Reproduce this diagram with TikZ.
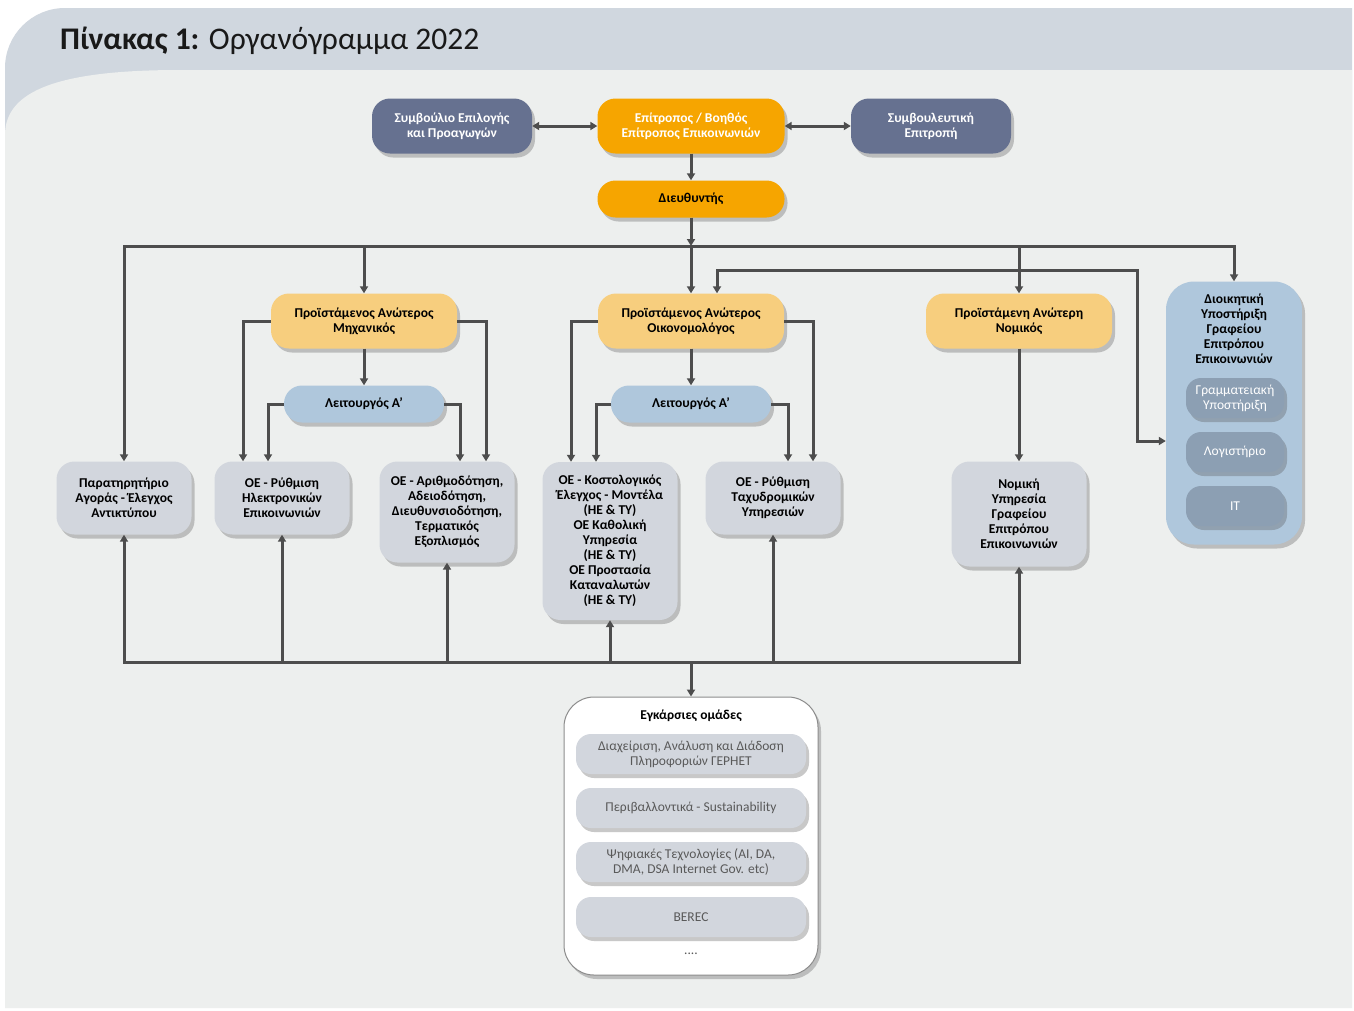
\documentclass[tikz,border=0pt]{standalone}
\usepackage{fontspec}
\setmainfont{Carlito}
\usetikzlibrary{arrows.meta,shadows}
\definecolor{hdrc}{HTML}{D0D7DF}
\definecolor{bodyc}{HTML}{EDEFEE}
\definecolor{slatec}{HTML}{667190}
\definecolor{orangec}{HTML}{F6A500}
\definecolor{lorangec}{HTML}{F7CE7E}
\definecolor{lbluec}{HTML}{AFC7DC}
\definecolor{grayc}{HTML}{D2D6DD}
\definecolor{innerc}{HTML}{8C9FB3}
\definecolor{linec}{HTML}{4D4D4D}
\definecolor{softc}{HTML}{595959}
\begin{document}
\begin{tikzpicture}[x=1pt,y=-1pt,>={Triangle[length=7pt,width=8pt]},
  con/.style={draw=linec,line width=3pt},
  box/.style={rounded corners=18pt,inner sep=2pt,align=center,minimum height=37pt,
    font=\bfseries\fontsize{13.5}{15}\selectfont,
    drop shadow={shadow xshift=3pt,shadow yshift=-4pt,opacity=.3,fill=black!70}},
  top/.style={box,fill=slatec,text=white,minimum width=160pt,minimum height=55pt},
  head/.style={box,fill=orangec,minimum width=187pt},
  chief/.style={box,fill=lorangec,minimum width=186pt,minimum height=55pt},
  officer/.style={box,fill=lbluec,minimum width=160pt},
  unit/.style={box,fill=grayc,minimum width=135pt,minimum height=73pt},
  sub/.style={box,rounded corners=15pt,fill=innerc,text=white,font=\fontsize{13.5}{15}\selectfont,
    minimum width=98pt,minimum height=40pt},
  group/.style={box,rounded corners=15pt,fill=grayc,text=softc,font=\fontsize{13.5}{15}\selectfont,
    minimum width=230pt,minimum height=40pt}]
\useasboundingbox (0,0) rectangle (1354,1010);
\fill[white] (0,0) rectangle (1354,1010);
\fill[hdrc] (5,200) [rounded corners=60pt] -- (5,8) [sharp corners] -- (1352,8) -- (1352,200) -- cycle;
\fill[bodyc] (5,1008) -- (5,135) .. controls (5,90) and (60,70) .. (180,70) -- (1352,70) -- (1352,1008) -- cycle;
\node[anchor=west,inner sep=0pt,text=black!90] (title) at (60,41)
  {\fontsize{31.5}{36}\selectfont\textbf{Πίνακας 1:} Οργανόγραμμα 2022};

\node[top] (board) at (452,126) {Συμβούλιο Επιλογής\\και Προαγωγών};
\node[head,text=white,minimum height=55pt] (comm) at (691,126) {Επίτροπος / Βοηθός\\Επίτροπος Επικοινωνιών};
\node[top] (advis) at (931,126) {Συμβουλευτική\\Επιτροπή};
\node[head] (dir) at (691,199) {Διευθυντής};

\node[chief] (eng) at (364,321) {Προϊστάμενος Ανώτερος\\Μηχανικός};
\node[chief] (econ) at (691,321) {Προϊστάμενος Ανώτερος\\Οικονομολόγος};
\node[chief] (law) at (1019,321) {Προϊστάμενη Ανώτερη\\Νομικός};
\node[box,fill=lbluec,minimum width=136pt,minimum height=263pt,rounded corners=28pt] (admin) at (1234,413) {};
\node[font=\bfseries\fontsize{13.5}{15}\selectfont,align=center,inner sep=0pt] (admint) at (1234,329)
  {Διοικητική\\Υποστήριξη\\Γραφείου\\Επιτρόπου\\Επικοινωνιών};
\node[sub] (secr) at (1235,398) {Γραμματειακή\\Υποστήριξη};
\node[sub] (acct) at (1235,452) {Λογιστήριο};
\node[sub] (it) at (1235,506) {IT};

\node[officer] (off1) at (364,404) {Λειτουργός Α’};
\node[officer] (off2) at (691,404) {Λειτουργός Α’};

\node[unit] (obs) at (124,498) {Παρατηρητήριο\\Αγοράς - Έλεγχος\\Αντικτύπου};
\node[unit] (elec) at (282,498) {ΟΕ - Ρύθμιση\\Ηλεκτρονικών\\Επικοινωνιών};
\node[unit,minimum height=101pt] (numb) at (447,512) {ΟΕ - Αριθμοδότηση,\\Αδειοδότηση,\\Διευθυνσιοδότηση,\\Τερματικός\\Εξοπλισμός};
\node[unit,minimum height=158pt] (cost) at (610,541) {ΟΕ - Κοστολογικός\\Έλεγχος - Μοντέλα\\(ΗΕ \& ΤΥ)\\ΟΕ Καθολική\\Υπηρεσία\\(ΗΕ \& ΤΥ)\\ΟΕ Προστασία\\Καταναλωτών\\(ΗΕ \& ΤΥ)};
\node[unit] (post) at (773,498) {ΟΕ - Ρύθμιση\\Ταχυδρομικών\\Υπηρεσιών};
\node[unit,minimum height=105pt] (legal) at (1019,514) {Νομική\\Υπηρεσία\\Γραφείου\\Επιτρόπου\\Επικοινωνιών};

\node[box,fill=white,draw=black!45,line width=1pt,rounded corners=30pt,minimum width=254pt,minimum height=278pt] (cross) at (691,836) {};
\node[font=\bfseries\fontsize{13.5}{15}\selectfont,inner sep=0pt] (crosst) at (691,716) {Εγκάρσιες ομάδες};
\node[group] (g1) at (691,754) {Διαχείριση, Ανάλυση και Διάδοση\\Πληροφοριών ΓΕΡΗΕΤ};
\node[group] (g2) at (691,808) {Περιβαλλοντικά - Sustainability};
\node[group] (g3) at (691,862) {Ψηφιακές Τεχνολογίες (AI, DA,\\DMA, DSA Internet Gov. etc)};
\node[group] (g4) at (691,917) {BEREC};
\node[text=softc,font=\fontsize{13.5}{15}\selectfont,inner sep=0pt] (more) at (691,954) {....};

\coordinate (bus) at (691,246);
\coordinate (adm) at (1137,270);
\coordinate (bot) at (691,662);

\draw[con,<->] (board) -- (comm);
\draw[con,<->] (comm) -- (advis);
\draw[con,->] (comm) -- (dir);
\draw[con,->] (dir) -- (bus);
\draw[con,->] (bus) -| (obs);
\draw[con,->] (bus) -| (eng);
\draw[con,->] (bus) -- (econ);
\draw[con,->] (bus) -| (law);
\draw[con,->] (bus) -| (admin);
\draw[con,<->] ([xshift=26pt]econ.north) |- (adm) |- ([yshift=-28pt]admin.west);

\draw[con,->] (eng) -- (off1);
\draw[con,->] (eng.west) -| ([xshift=-39pt]elec.north);
\draw[con,->] (off1.west) -| ([xshift=-14pt]elec.north);
\draw[con,->] (eng.east) -| ([xshift=39pt]numb.north);
\draw[con,->] (off1.east) -| ([xshift=13pt]numb.north);

\draw[con,->] (econ) -- (off2);
\draw[con,->] (econ.west) -| ([xshift=-39pt]cost.north);
\draw[con,->] (off2.west) -| ([xshift=-14pt]cost.north);
\draw[con,->] (econ.east) -| ([xshift=40pt]post.north);
\draw[con,->] (off2.east) -| ([xshift=15pt]post.north);

\draw[con,->] (law) -- (legal);

\draw[con,->] (bot) -| (obs);
\draw[con,->] (bot) -| (elec);
\draw[con,->] (bot) -| (numb);
\draw[con,->] (bot) -| (cost);
\draw[con,->] (bot) -| (post);
\draw[con,->] (bot) -| (legal);
\draw[con,->] (bot) -- (cross);
\end{tikzpicture}
\end{document}
